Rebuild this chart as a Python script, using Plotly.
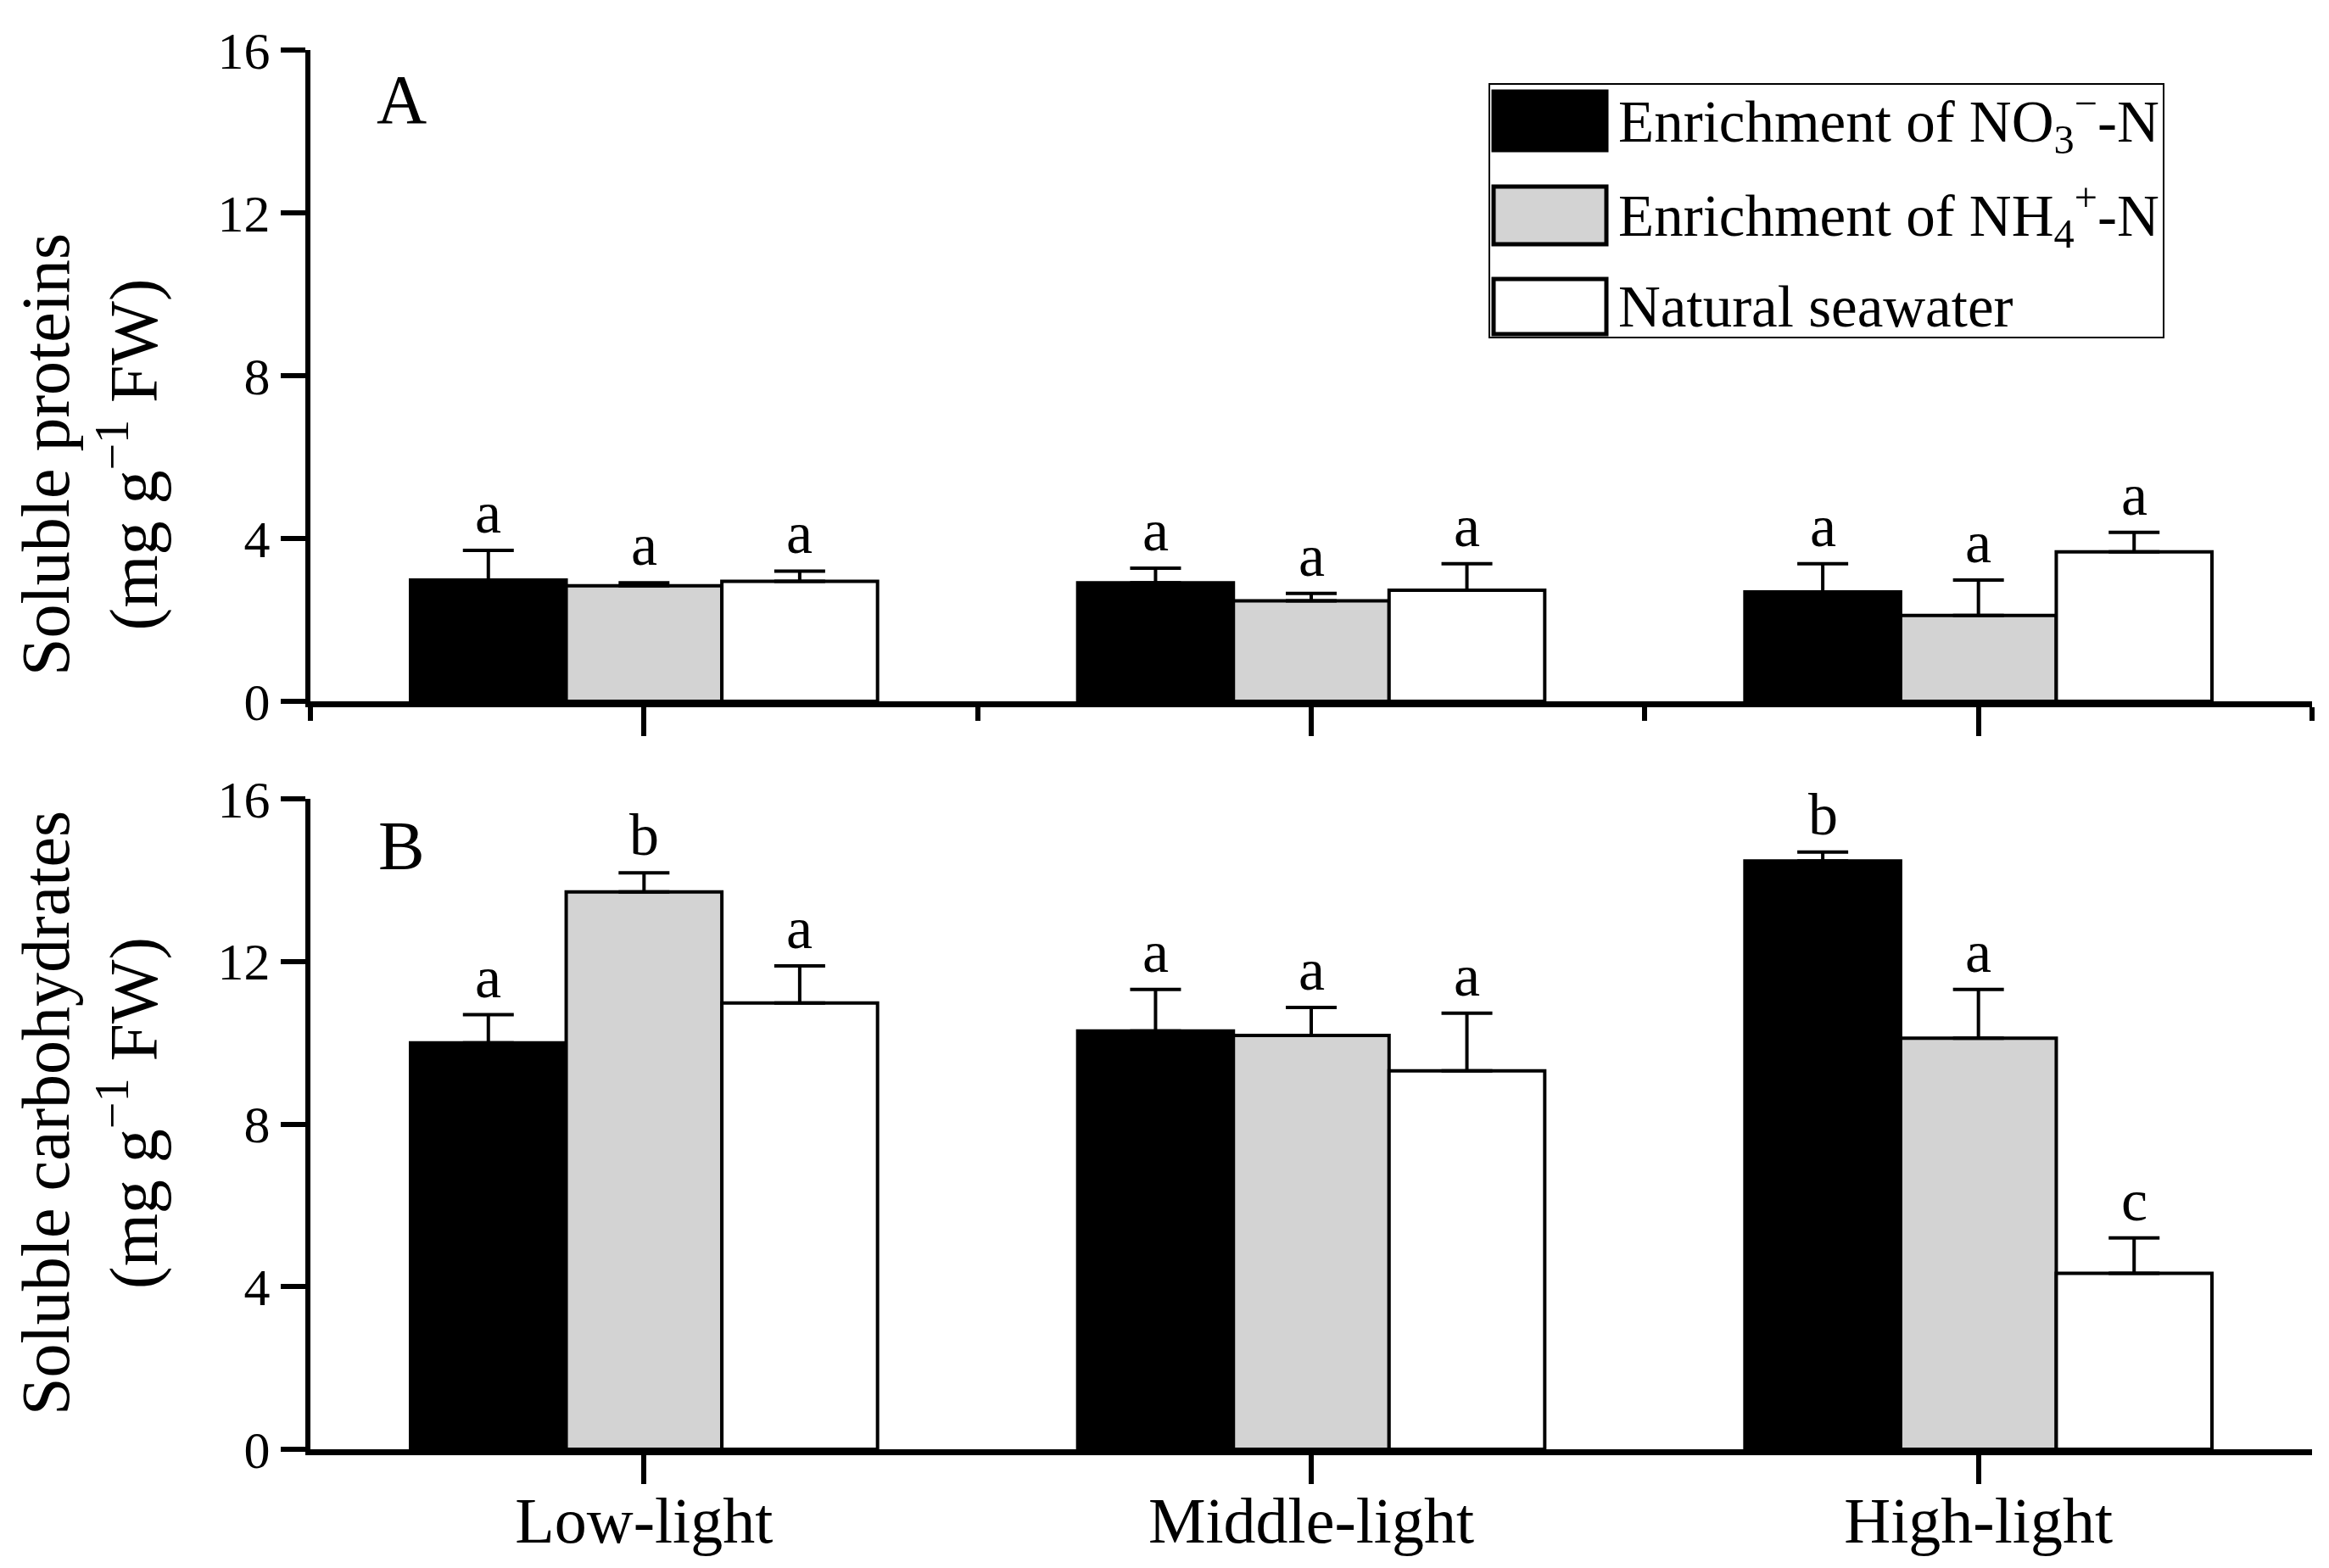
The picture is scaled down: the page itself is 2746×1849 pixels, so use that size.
import plotly.graph_objects as go
from plotly.subplots import make_subplots

# data
categories = ["Low-light", "Middle-light", "High-light"]
series_names = ["Enrichment of NO<sub>3</sub><sup>\u2212</sup>-N",
                "Enrichment of NH<sub>4</sub><sup>+</sup>-N",
                "Natural seawater"]
colors = ["black", "#d3d3d3", "white"]

proteins_no3 = [2.98, 2.91, 2.69]
proteins_nh4 = [2.84, 2.47, 2.11]
proteins_sea = [2.95, 2.73, 3.67]
proteins_no3_sd = [0.73, 0.36, 0.69]
proteins_nh4_sd = [0.07, 0.18, 0.87]
proteins_sea_sd = [0.25, 0.65, 0.48]
proteins_no3_lab = ["a", "a", "a"]
proteins_nh4_lab = ["a", "a", "a"]
proteins_sea_lab = ["a", "a", "a"]

carbs_no3 = [10.00, 10.29, 14.47]
carbs_nh4 = [13.71, 10.18, 10.11]
carbs_sea = [10.98, 9.31, 4.33]
carbs_no3_sd = [0.69, 1.02, 0.22]
carbs_nh4_sd = [0.47, 0.69, 1.20]
carbs_sea_sd = [0.91, 1.42, 0.87]
carbs_no3_lab = ["a", "a", "b"]
carbs_nh4_lab = ["b", "a", "a"]
carbs_sea_lab = ["a", "a", "c"]

W, H = 2746, 1849
ML, MR, MT, MB = 358, 28, 51, 148
FONT = "Liberation Serif"


def px_x(p):
    return (p - ML) / (W - ML - MR)


def px_y(p):
    return (H - MB - p) / (H - MT - MB)


fig = make_subplots(rows=2, cols=1)
x_pos = list(range(len(categories)))

panels = [
    (1, [proteins_no3, proteins_nh4, proteins_sea],
        [proteins_no3_sd, proteins_nh4_sd, proteins_sea_sd],
        [proteins_no3_lab, proteins_nh4_lab, proteins_sea_lab]),
    (2, [carbs_no3, carbs_nh4, carbs_sea],
        [carbs_no3_sd, carbs_nh4_sd, carbs_sea_sd],
        [carbs_no3_lab, carbs_nh4_lab, carbs_sea_lab]),
]

bar_w = 0.7 / 3
for row, vals, sds, labs in panels:
    for s in range(3):
        fig.add_trace(go.Bar(
            x=x_pos, y=vals[s], name=series_names[s],
            marker=dict(color=colors[s], line=dict(color="black", width=4)),
            error_y=dict(type="data", array=sds[s], arrayminus=[0] * 3,
                         symmetric=False, color="black", thickness=4, width=30),
            showlegend=False),
            row=row, col=1)
        xref = "x" if row == 1 else "x2"
        yref = "y" if row == 1 else "y2"
        for i in range(3):
            fig.add_annotation(x=i + (s - 1) * bar_w, y=vals[s][i] + sds[s][i],
                               xref=xref, yref=yref, text=labs[s][i],
                               showarrow=False, yanchor="bottom", yshift=4,
                               font=dict(size=70, family=FONT, color="black"))

fig.update_layout(
    width=W, height=H,
    margin=dict(l=ML, r=MR, t=MT, b=MB),
    paper_bgcolor="white", plot_bgcolor="white",
    barmode="group", bargap=0.3, bargroupgap=0,
    font=dict(family=FONT, color="black"),
)

axis_common = dict(showline=True, linecolor="black", showgrid=False, zeroline=False,
                   ticks="outside", tickcolor="black")
for r in (1, 2):
    fig.update_xaxes(axis_common, range=[-0.5, 2.5], tickvals=x_pos, ticktext=categories,
                     linewidth=7, ticklen=34, tickwidth=6,
                     showticklabels=(r == 2), ticklabelstandoff=-22,
                     tickfont=dict(size=76, family=FONT, color="black"),
                     row=r, col=1)
    fig.update_yaxes(axis_common, range=[0, 16], tickvals=[0, 4, 8, 12, 16],
                     linewidth=6, ticklen=29, tickwidth=6,
                     tickfont=dict(size=62, family=FONT, color="black"),
                     row=r, col=1)

# short boundary ticks only on the upper panel
fig.update_xaxes(minor=dict(tick0=-0.5, dtick=1, ticks="outside", ticklen=16,
                            tickwidth=6, tickcolor="black"), row=1, col=1)

fig.update_layout(yaxis=dict(domain=[px_y(819), 1.0]),
                  yaxis2=dict(domain=[0.0, px_y(934)]))

# y titles
fig.add_annotation(xref="paper", yref="paper", x=px_x(98), y=px_y(528),
                   text="Soluble proteins<br>(mg g<sup>\u22121</sup> FW)",
                   textangle=-90, showarrow=False, xanchor="center", yanchor="middle",
                   font=dict(size=80, family=FONT, color="black"))
fig.add_annotation(xref="paper", yref="paper", x=px_x(98), y=px_y(1305),
                   text="Soluble carbohydrates<br>(mg g<sup>\u22121</sup> FW)",
                   textangle=-90, showarrow=False, xanchor="center", yanchor="middle",
                   font=dict(size=80, family=FONT, color="black"))

# panel letters
for lab, py in (("A", 109), ("B", 989)):
    fig.add_annotation(xref="paper", yref="paper", x=px_x(465), y=px_y(py),
                       text=lab, showarrow=False, xanchor="center", yanchor="middle",
                       font=dict(size=82, family=FONT, color="black"))

# legend box drawn by hand
fig.add_shape(type="rect", xref="paper", yref="paper",
              x0=px_x(1748), x1=px_x(2543), y0=px_y(390), y1=px_y(91),
              line=dict(color="black", width=2), fillcolor="white", layer="above")
rows_y = [(100, 169), (212, 280), (321, 386)]
for s, (y0, y1) in enumerate(rows_y):
    fig.add_shape(type="rect", xref="paper", yref="paper",
                  x0=px_x(1753), x1=px_x(1886), y0=px_y(y1), y1=px_y(y0),
                  line=dict(color="black", width=5), fillcolor=colors[s], layer="above")
    fig.add_annotation(xref="paper", yref="paper", x=px_x(1898), y=px_y((y0 + y1) / 2),
                       text=series_names[s], showarrow=False, xanchor="left",
                       yanchor="middle",
                       font=dict(size=69, family=FONT, color="black"))

fig.write_html("out.html")
